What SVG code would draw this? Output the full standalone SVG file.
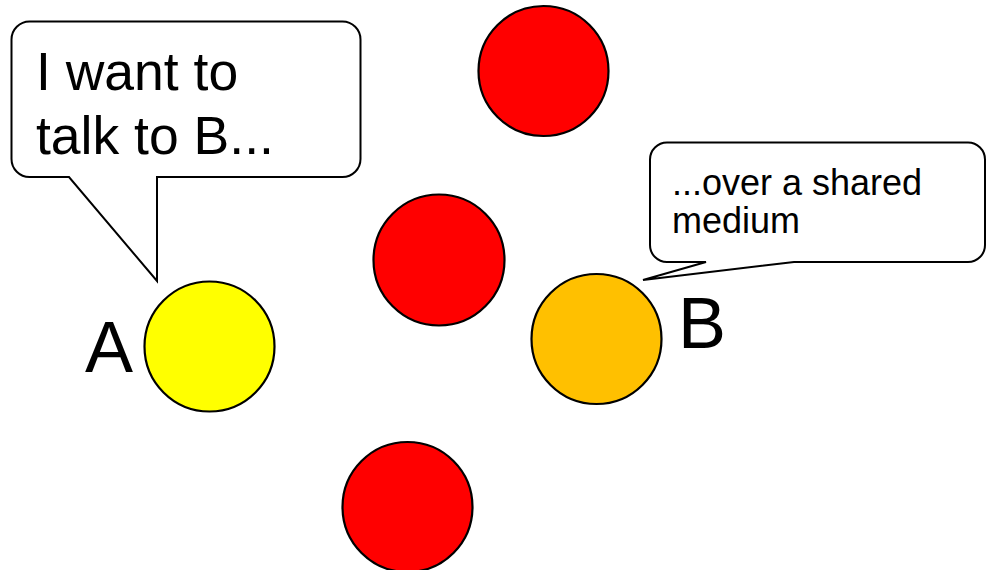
<svg xmlns="http://www.w3.org/2000/svg" width="987" height="570" viewBox="0 0 987 570">
  <style>
    .node { stroke: #000; stroke-width: 2.2; }
    .red { fill: #ff0000; }
    .bubble { fill: #fff; stroke: #000; stroke-width: 2; stroke-linejoin: miter; }
    text { font-family: "Liberation Sans", Arial, sans-serif; fill: #000; }
  </style>
  <rect width="987" height="570" fill="#fff"/>

  <!-- speech callouts -->
  <g id="callout-a">
    <path class="bubble" d="M29.5,21.5 H342.5 A18,18 0 0 1 360.5,39.5 V159 A18,18 0 0 1 342.5,177 H157 V281 L69,177 H29.5 A18,18 0 0 1 11.5,159 V39.5 A18,18 0 0 1 29.5,21.5 Z"/>
    <text x="36" y="90" font-size="53.5">I want to</text>
    <text x="36" y="154" font-size="53.5">talk to B...</text>
  </g>
  <g id="callout-b">
    <path class="bubble" d="M667,142.5 H968 A17,17 0 0 1 985,159.5 V245 A17,17 0 0 1 968,262 H794 L643,280 L706,262 H667 A17,17 0 0 1 650,245 V159.5 A17,17 0 0 1 667,142.5 Z"/>
    <text x="672" y="195" font-size="36">...over a shared</text>
    <text x="672" y="233" font-size="36">medium</text>
  </g>

  <!-- stations -->
  <g id="node-a">
    <circle class="node" cx="209.5" cy="346.5" r="65" fill="#ffff00"/>
    <text x="85" y="372" font-size="72">A</text>
  </g>
  <g id="node-b">
    <circle class="node" cx="596.5" cy="339" r="65" fill="#ffc000"/>
    <text x="678" y="348" font-size="72">B</text>
  </g>
  <g id="node-r1"><circle class="node red" cx="543.5" cy="71" r="65"/></g>
  <g id="node-r2"><circle class="node red" cx="439" cy="260" r="65.5"/></g>
  <g id="node-r3"><circle class="node red" cx="407.5" cy="507" r="65"/></g>

  <g id="connectors"></g>
</svg>
